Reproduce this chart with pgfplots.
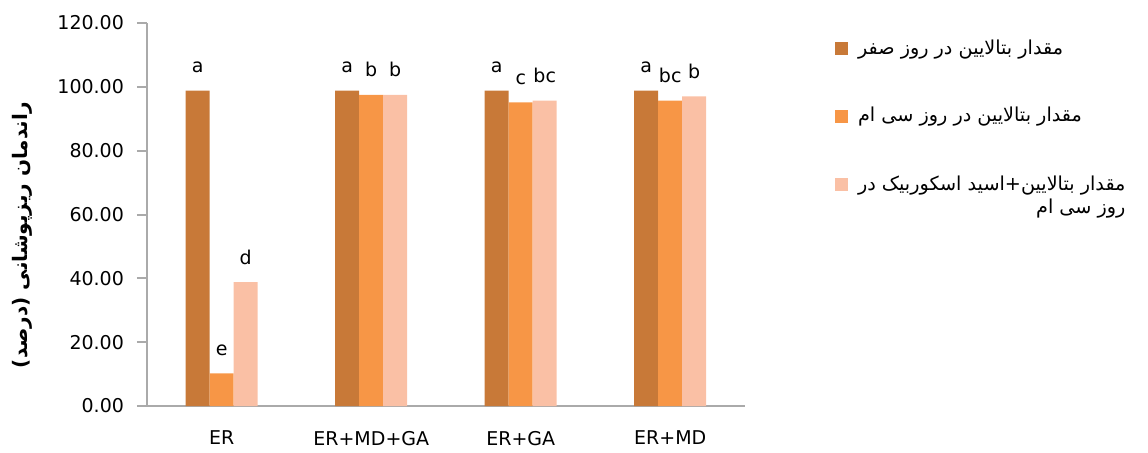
\documentclass[border=0pt]{standalone}
\usepackage{fontspec}
\setmainfont{DejaVu Sans}
\newfontfamily\arabicfont[Script=Arabic]{DejaVu Sans}
\TeXXeTstate=1
\usepackage{pgfplots}
\pgfplotsset{compat=1.18}
\definecolor{c1}{RGB}{200,121,56}
\definecolor{c2}{RGB}{247,150,70}
\definecolor{c3}{RGB}{250,192,165}
\definecolor{axgray}{RGB}{170,170,170}
\pgfplotsset{sqlegend/.style={legend image code/.code={\fill[##1] (0pt,-3.25pt) rectangle (6.5pt,3.25pt);}}}
\begin{document}
\begin{tikzpicture}
\begin{axis}[
  scale only axis, width=299pt, height=191.5pt,
  ybar=0pt, bar width=12pt,
  xmin=-0.5, xmax=3.5, ymin=0, ymax=120,
  xtick={0,1,2,3}, xticklabels={ER,ER+MD+GA,ER+GA,ER+MD},
  ytick={0,20,40,60,80,100,120},
  axis x line=bottom, axis y line=left,
  axis line style={draw=axgray, line width=1pt, -},
  tick align=outside, major tick length=5pt,
  ytick style={draw=axgray, line width=1pt},
  xtick style={draw=none},
  font=\fontsize{9.5}{11}\selectfont,
  yticklabel style={xshift=-3pt, /pgf/number format/fixed, /pgf/number format/fixed zerofill, /pgf/number format/precision=2, /pgf/number format/assume math mode=true},
  xticklabel style={yshift=-4pt},
  every axis y label/.style={at={(axis description cs:-0.209,0.446)}, rotate=90, anchor=center},
  ylabel={\fontsize{10}{12}\selectfont\arabicfont\bfseries\beginR راندمان ریزپوشانی (درصد)\endR},
  nodes near coords, point meta=explicit symbolic,
  every node near coord/.append style={anchor=base, yshift=9pt, text=black, font=\fontsize{9.5}{11}\selectfont},
  legend style={at={(1.15,0.968)}, anchor=north west, draw=none, fill=none, inner sep=0pt,
    row sep=21pt, column sep=3pt, font=\fontsize{9.6}{11.5}\selectfont\arabicfont},
  legend cell align=left,
]
\addplot[fill=c1, draw=none, sqlegend] coordinates {(0,98.8)[a] (1,98.8)[a] (2,98.8)[a] (3,98.8)[a]};
\addlegendentry{\beginR مقدار بتالایین در روز صفر\endR}
\addplot[fill=c2, draw=none, sqlegend] coordinates {(0,10.2)[e] (1,97.5)[b] (2,95.1)[c] (3,95.7)[bc]};
\addlegendentry{\beginR مقدار بتالایین در روز سی ام\endR}
\addplot[fill=c3, draw=none, sqlegend] coordinates {(0,38.8)[d] (1,97.5)[b] (2,95.7)[bc] (3,97.0)[b]};
\addlegendentry{\begin{tabular}[t]{@{}r@{}}\beginR مقدار بتالایین+اسید اسکوربیک در\endR\\\beginR روز سی ام\endR\end{tabular}}
\end{axis}
\path[use as bounding box] (-73.5pt,-22pt) rectangle (500.5pt,203pt);
\end{tikzpicture}
\end{document}
